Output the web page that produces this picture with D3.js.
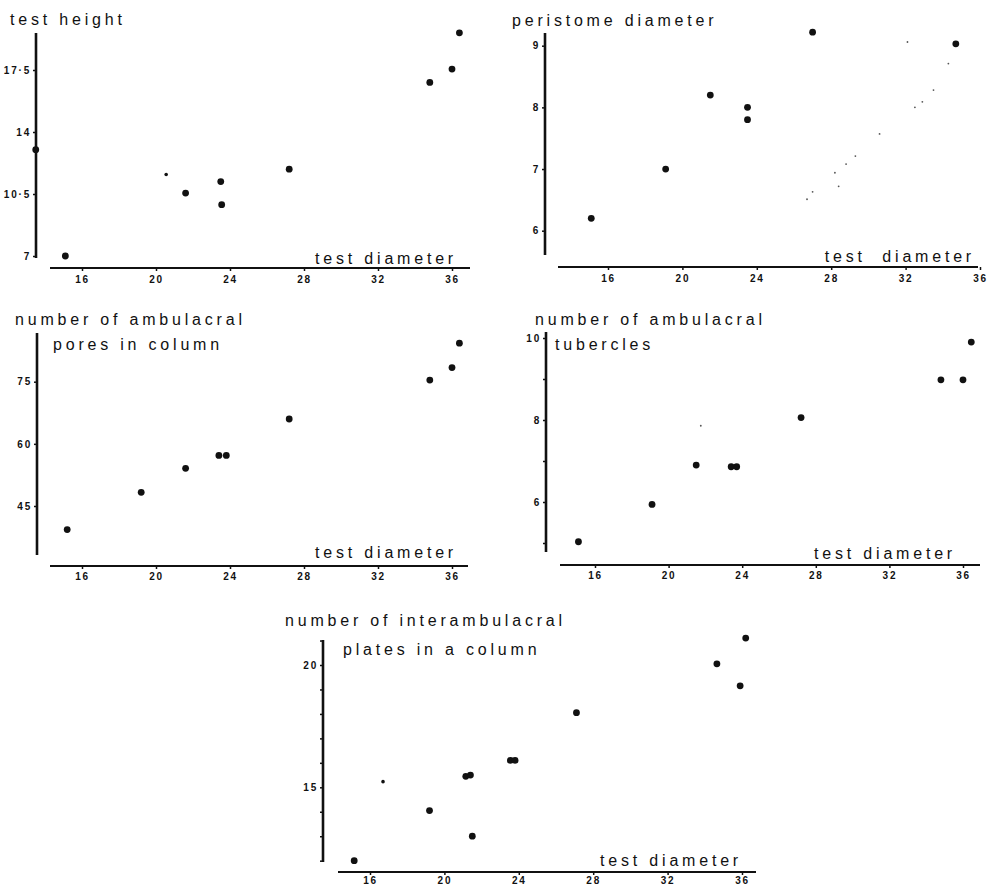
<!DOCTYPE html>
<html>
<head>
  <title>Test diameter scatter plots</title>
  <script src="https://d3js.org/d3.v7.min.js"></script>
  <style>
    body { margin: 0; background: #fff; }
    .title, .xname {
      font: 16px "Liberation Sans", Arial, sans-serif;
      letter-spacing: 3.8px;
      fill: #111;
    }
    .tick text {
      font: bold 10px "Liberation Sans", Arial, sans-serif;
      letter-spacing: 1.8px;
      fill: #111;
    }
    .tick line { stroke: #111; stroke-width: 1.5px; }
    .axisline { stroke: #111; stroke-width: 2.2px; }
    .dot { fill: #111; }
  </style>
</head>
<body>
  <script>
    var width = 988,
        height = 889;

    // test height vs test diameter
    var diam1 = [15.1, 21.6, 23.5, 23.55, 27.2, 34.8, 36.0, 36.4, 13.5];
    var height1 = [7.0, 10.55, 11.2, 9.9, 11.9, 16.8, 17.55, 19.6, 13.0];
    var faintDiam1 = [20.55];
    var faintHeight1 = [11.6];

    // peristome diameter vs test diameter
    var diam2 = [15.1, 19.1, 21.5, 23.5, 23.5, 27.0, 34.7];
    var peristome = [6.2, 7.0, 8.2, 8.0, 7.8, 9.22, 9.03];
    var speckDiam2 = [26.7, 27.0, 28.2, 28.4, 28.8, 29.3, 30.6, 32.1, 32.5, 32.9, 33.5, 34.3];
    var speckPeri2 = [6.51, 6.63, 6.94, 6.72, 7.08, 7.21, 7.57, 9.06, 8.0, 8.09, 8.28, 8.71];

    // ambulacral pores vs test diameter
    var diam3 = [15.2, 19.2, 21.6, 23.4, 23.8, 27.2, 34.8, 36.0, 36.4];
    var pores = [39.3, 48.3, 54.1, 57.2, 57.2, 66.0, 75.4, 78.4, 84.3];

    // ambulacral tubercles vs test diameter
    var diam4 = [15.1, 19.1, 21.5, 23.4, 23.7, 27.2, 34.8, 36.0, 36.45];
    var tubercles = [5.03, 5.94, 6.9, 6.86, 6.86, 8.06, 8.98, 8.98, 9.9];
    var speckDiam4 = [21.75];
    var speckTub4 = [7.86];

    // interambulacral plates vs test diameter
    var diam5 = [15.15, 19.2, 21.15, 21.4, 21.5, 23.55, 23.8, 27.1, 34.65, 35.9, 36.2];
    var plates = [12.0, 14.05, 15.45, 15.5, 13.0, 16.1, 16.1, 18.05, 20.05, 19.15, 21.1];
    var faintDiam5 = [16.7];
    var faintPlates5 = [15.23];

    var xTicks = [16, 20, 24, 28, 32, 36];
    var yTicks1 = [7, 10.5, 14, 17.5];
    var yTicks2 = [6, 7, 8, 9];
    var yTicks3 = [45, 60, 75];
    var yTicks4 = [5, 6, 7, 8, 9, 10];
    var yLabels4 = [6, 8, 10];
    var yTicks5 = [12, 13, 14, 15, 16, 17, 18, 19, 20, 21];
    var yLabels5 = [15, 20];

    function fmt(v) { return String(v).replace(".", "\u00b7"); }

    var panels = [
      {xs: diam1, ys: height1, fx: faintDiam1, fy: faintHeight1,
       xr: [82, 452], yd: [7, 17.5], yr: [256, 70],
       xLine: [50, 470, 268], yLine: [36, 33, 258], pad: 5,
       yt: yTicks1, yl: yTicks1,
       titles: [["test height", 10, 25]], xname: ["test diameter", 457, 264]},
      {xs: diam2, ys: peristome, sx: speckDiam2, sy: speckPeri2,
       xr: [608, 980], yd: [6, 9], yr: [230.7, 45.7],
       xLine: [558, 978, 267], yLine: [545, 33, 255], pad: 5,
       yt: yTicks2, yl: yTicks2,
       titles: [["peristome diameter", 512, 26]], xname: ["test  diameter", 975, 262]},
      {xs: diam3, ys: pores,
       xr: [82, 452], yd: [45, 75], yr: [506, 381.7],
       xLine: [50, 468, 566], yLine: [37, 333, 555], pad: 4,
       yt: yTicks3, yl: yTicks3,
       titles: [["number of ambulacral", 15, 325], ["pores in column", 53, 350]],
       xname: ["test diameter", 457, 558]},
      {xs: diam4, ys: tubercles, sx: speckDiam4, sy: speckTub4,
       xr: [595, 963], yd: [6, 10], yr: [502, 338],
       xLine: [560, 980, 565], yLine: [546, 332, 552], pad: 4,
       yt: yTicks4, yl: yLabels4,
       titles: [["number of ambulacral", 535, 325], ["tubercles", 555, 350]],
       xname: ["test diameter", 956, 559]},
      {xs: diam5, ys: plates, fx: faintDiam5, fy: faintPlates5,
       xr: [370, 742], yd: [15, 20], yr: [787.3, 665],
       xLine: [338, 756, 872], yLine: [323, 640, 862], pad: 2,
       yt: yTicks5, yl: yLabels5,
       titles: [["number of interambulacral", 285, 626], ["plates in a column", 343, 655]],
       xname: ["test diameter", 742, 866]}
    ];

    var svg = d3.select("body").append("svg")
        .attr("width", width)
        .attr("height", height);

    panels.forEach(function(p) {
      var x = d3.scaleLinear().domain([16, 36]).range(p.xr);
      var y = d3.scaleLinear().domain(p.yd).range(p.yr);
      var g = svg.append("g");

      // x axis
      g.append("line").attr("class", "axisline")
          .attr("x1", p.xLine[0]).attr("x2", p.xLine[1])
          .attr("y1", p.xLine[2]).attr("y2", p.xLine[2]);
      var xa = g.append("g")
          .attr("transform", "translate(0," + p.xLine[2] + ")")
          .call(d3.axisBottom(x).tickValues(xTicks).tickSize(3).tickPadding(p.pad).tickFormat(d3.format("d")));
      xa.select(".domain").remove();

      // y axis
      g.append("line").attr("class", "axisline")
          .style("stroke-width", "2.6px")
          .attr("x1", p.yLine[0]).attr("x2", p.yLine[0])
          .attr("y1", p.yLine[1]).attr("y2", p.yLine[2]);
      var ya = g.append("g")
          .attr("transform", "translate(" + p.yLine[0] + ",0)")
          .call(d3.axisLeft(y).tickValues(p.yt).tickSize(3).tickPadding(2)
            .tickFormat(function(d) { return p.yl.indexOf(d) >= 0 ? fmt(d) : ""; }));
      ya.select(".domain").remove();

      // points
      g.selectAll(".dot").data(p.xs)
          .enter().append("circle")
          .attr("class", "dot")
          .attr("cx", function(d) { return x(d); })
          .attr("cy", function(d, i) { return y(p.ys[i]); })
          .attr("r", 3.4);

      if (p.fx) {
        g.selectAll(".faint").data(p.fx)
            .enter().append("circle")
            .attr("class", "dot faint")
            .attr("cx", function(d) { return x(d); })
            .attr("cy", function(d, i) { return y(p.fy[i]); })
            .attr("r", 1.8);
      }
      if (p.sx) {
        g.selectAll(".speck").data(p.sx)
            .enter().append("circle")
            .attr("class", "dot speck")
            .attr("cx", function(d) { return x(d); })
            .attr("cy", function(d, i) { return y(p.sy[i]); })
            .attr("r", 0.9)
            .style("fill", "#555");
      }

      // labels
      p.titles.forEach(function(t) {
        g.append("text").attr("class", "title")
            .attr("x", t[1]).attr("y", t[2]).text(t[0]);
      });
      g.append("text").attr("class", "xname")
          .attr("x", p.xname[1]).attr("y", p.xname[2])
          .attr("text-anchor", "end")
          .style("white-space", "pre")
          .text(p.xname[0]);
    });
  </script>
</body>
</html>
